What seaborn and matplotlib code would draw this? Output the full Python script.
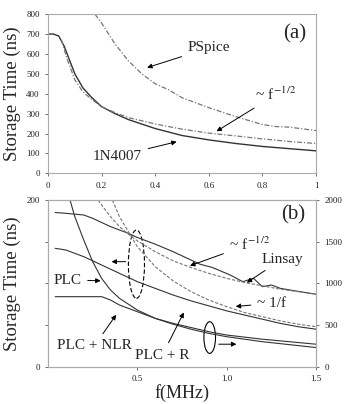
import numpy as np
import pandas as pd
import matplotlib
matplotlib.use("Agg")
import matplotlib.pyplot as plt
import seaborn as sns

# ---------------- data: panel (a) ----------------
a_1n4007_x = [0.0, 0.02, 0.04, 0.06, 0.08, 0.1, 0.13, 0.16, 0.2, 0.25, 0.3, 0.4, 0.5, 0.6, 0.7, 0.8, 0.9, 1.0]
a_1n4007_y = [700, 700, 690, 640, 570, 500, 430, 385, 335, 300, 270, 225, 190, 168, 150, 135, 124, 113]
a_fhalf_x = [0.05, 0.07, 0.1, 0.13, 0.16, 0.2, 0.25, 0.3, 0.4, 0.5, 0.6, 0.7, 0.8, 0.9, 1.0]
a_fhalf_y = [670, 580, 470, 410, 375, 335, 305, 280, 248, 222, 202, 188, 173, 160, 150]
a_pspice_x = [0.175, 0.2, 0.25, 0.3, 0.35, 0.4, 0.45, 0.5, 0.6, 0.7, 0.8, 0.85, 0.9, 1.0]
a_pspice_y = [800, 755, 650, 565, 500, 450, 420, 380, 330, 285, 245, 235, 232, 215]

# ---------------- data: panel (b) (left axis, ns) ----------------
b_linsay_x = [0.04, 0.1, 0.2, 0.25, 0.3, 0.35, 0.4, 0.45, 0.5, 0.6, 0.7, 0.8, 0.85, 0.92, 1.02, 1.09, 1.15, 1.2, 1.25, 1.3, 1.41, 1.5]
b_linsay_y = [185, 184, 182, 178, 173, 168, 164, 160, 155, 147, 138, 128, 123, 119, 110, 102, 106, 96, 98, 94, 90, 87]
b_fhalf_x = [0.28, 0.3, 0.35, 0.4, 0.45, 0.5, 0.6, 0.7, 0.8, 0.9, 1.0, 1.1, 1.2, 1.3, 1.4, 1.5]
b_fhalf_y = [200, 194, 180, 168, 159, 151, 138, 127, 119, 112, 106, 101, 97, 93, 90, 87]
b_finv_x = [0.36, 0.4, 0.5, 0.6, 0.7, 0.8, 0.9, 1.0, 1.1, 1.2, 1.3, 1.4, 1.5]
b_finv_y = [200, 180, 144, 120, 103, 90, 80, 72, 65, 60, 55, 51, 48]
b_plc_x = [0.04, 0.1, 0.2, 0.3, 0.4, 0.5, 0.6, 0.7, 0.8, 0.9, 1.0, 1.1, 1.2, 1.3, 1.4, 1.5]
b_plc_y = [142, 140, 132, 122, 112, 102, 94, 86, 79, 73, 67, 62, 57, 52, 48, 45]
b_plcr_x = [0.123, 0.15, 0.2, 0.25, 0.3, 0.35, 0.4, 0.5, 0.6, 0.7, 0.8, 0.9, 1.0, 1.2, 1.5]
b_plcr_y = [200, 180, 152, 126, 106, 92, 82, 68, 58, 52, 47, 42, 38, 33, 27]
b_nlr_x = [0.04, 0.1, 0.2, 0.3, 0.35, 0.4, 0.5, 0.6, 0.7, 0.8, 0.9, 1.0, 1.2, 1.5]
b_nlr_y = [84, 84, 84, 84, 80, 74, 66, 58, 51, 45, 40, 36, 30, 23]

# tick labels
a_xticks = [0, 0.2, 0.4, 0.6, 0.8, 1.0]
a_xticklabels = ["0", "0.2", "0.4", "0.6", "0.8", "1"]
a_yticks = [0, 100, 200, 300, 400, 500, 600, 700, 800]
b_xticks = [0.5, 1.0, 1.5]
b_xticklabels = ["0.5", "1.0", "1.5"]
b_yticks = [0, 50, 100, 150, 200]
b_yticklabels = ["0", "", "", "", "200"]
b_ryticks = [0, 500, 1000, 1500, 2000]

sns.set_style("ticks")
plt.rcParams["font.family"] = ["Liberation Serif", "DejaVu Serif"]
plt.rcParams["mathtext.fontset"] = "stix"

fig = plt.figure(figsize=(3.54, 4.04), dpi=100)
ax1 = fig.add_axes([0.1356, 0.571, 0.7571, 0.394])
ax2 = fig.add_axes([0.1356, 0.0923, 0.7571, 0.4127])

dark = "#333333"
grey = "#777777"
spine_c = "#aaaaaa"
tick_fs = 6.5

def style(ax):
    for s in ax.spines.values():
        s.set_color(spine_c)
        s.set_linewidth(0.8)
    ax.tick_params(labelsize=tick_fs, colors="#555555", length=2.5, width=0.6,
                   labelcolor="#222222")

# ---- panel (a)
sns.lineplot(x=a_1n4007_x, y=a_1n4007_y, ax=ax1, color=dark, linewidth=1.0)
sns.lineplot(x=a_fhalf_x, y=a_fhalf_y, ax=ax1, color=grey, linewidth=0.9, linestyle=(0, (4, 1.5, 1, 1.5)))
sns.lineplot(x=a_pspice_x, y=a_pspice_y, ax=ax1, color=grey, linewidth=0.9, linestyle=(0, (4, 1.5, 1, 1.5)))
ax1.set_xlim(0, 1)
ax1.set_ylim(0, 800)
ax1.set_xticks(a_xticks)
ax1.set_xticklabels(a_xticklabels)
ax1.set_yticks(a_yticks)
ax1.set_ylabel("Storage Time (ns)", fontsize=13.5)
ax1.yaxis.set_label_coords(-0.10, 0.5)
style(ax1)

ann_fs = 11
arrow = dict(arrowstyle="-|>", color="black", lw=0.7, mutation_scale=7)
ax1.text(0.92, 700, "(a)", fontsize=15, ha="center", va="center")
ax1.annotate("PSpice", xy=(0.36, 527), xytext=(0.6, 630), fontsize=ann_fs,
             ha="center", va="center", arrowprops=arrow)
ax1.annotate("~ f$^{\\,\\mathrm{-1/2}}$", xy=(0.62, 204), xytext=(0.85, 395), fontsize=ann_fs,
             ha="center", va="center", arrowprops=arrow)
ax1.annotate("1N4007", xy=(0.49, 162), xytext=(0.26, 87), fontsize=ann_fs,
             ha="center", va="center", arrowprops=arrow)

# ---- panel (b)
sns.lineplot(x=b_linsay_x, y=b_linsay_y, ax=ax2, color=dark, linewidth=0.8)
sns.lineplot(x=b_fhalf_x, y=b_fhalf_y, ax=ax2, color=grey, linewidth=0.8, linestyle=(0, (3, 1.5)))
sns.lineplot(x=b_finv_x, y=b_finv_y, ax=ax2, color=grey, linewidth=0.8, linestyle=(0, (3, 1.5)))
sns.lineplot(x=b_plc_x, y=b_plc_y, ax=ax2, color=dark, linewidth=0.8)
sns.lineplot(x=b_plcr_x, y=b_plcr_y, ax=ax2, color=dark, linewidth=0.8)
sns.lineplot(x=b_nlr_x, y=b_nlr_y, ax=ax2, color=dark, linewidth=0.8)
ax2.set_xlim(0, 1.5)
ax2.set_ylim(0, 200)
ax2.set_xticks(b_xticks)
ax2.set_xticklabels(b_xticklabels)
ax2.set_yticks(b_yticks)
ax2.set_yticklabels(b_yticklabels)
ax2.set_ylabel("Storage Time (ns)", fontsize=13.5)
ax2.yaxis.set_label_coords(-0.10, 0.5)
ax2.set_xlabel("f(MHz)", fontsize=13, labelpad=1)
style(ax2)

ax2r = ax2.twinx()
ax2r.set_ylim(0, 2000)
ax2r.set_yticks(b_ryticks)
style(ax2r)

ax2.text(1.37, 182, "(b)", fontsize=15, ha="center", va="center")
ax2.annotate("~ f$^{\\,\\mathrm{-1/2}}$", xy=(0.78, 120), xytext=(1.13, 147), fontsize=ann_fs,
             ha="center", va="center", arrowprops=arrow)
ax2.annotate("Linsay", xy=(1.10, 99), xytext=(1.31, 129), fontsize=ann_fs,
             ha="center", va="center", arrowprops=arrow)
ax2.annotate("~ 1/f", xy=(1.035, 72), xytext=(1.25, 76), fontsize=ann_fs,
             ha="center", va="center", arrowprops=arrow)
ax2.annotate("PLC", xy=(0.31, 103), xytext=(0.11, 104), fontsize=ann_fs,
             ha="center", va="center", arrowprops=arrow)
ax2.annotate("PLC + NLR", xy=(0.39, 65), xytext=(0.26, 25), fontsize=ann_fs,
             ha="center", va="center", arrowprops=arrow)
ax2.annotate("PLC + R", xy=(0.767, 68), xytext=(0.64, 14), fontsize=ann_fs,
             ha="center", va="center", arrowprops=arrow)

from matplotlib.patches import Ellipse
ax2.add_patch(Ellipse((0.495, 123), 0.09, 82, fill=False, ls=(0, (4, 2)), lw=0.8, color="black"))
ax2.add_patch(Ellipse((0.905, 35), 0.065, 38, fill=False, lw=0.8, color="black"))
ax2.annotate("", xy=(0.34, 126), xytext=(0.45, 126), arrowprops=arrow)
ax2.annotate("", xy=(1.07, 27), xytext=(0.94, 27), arrowprops=arrow)

fig.savefig("out.png", dpi=100)
